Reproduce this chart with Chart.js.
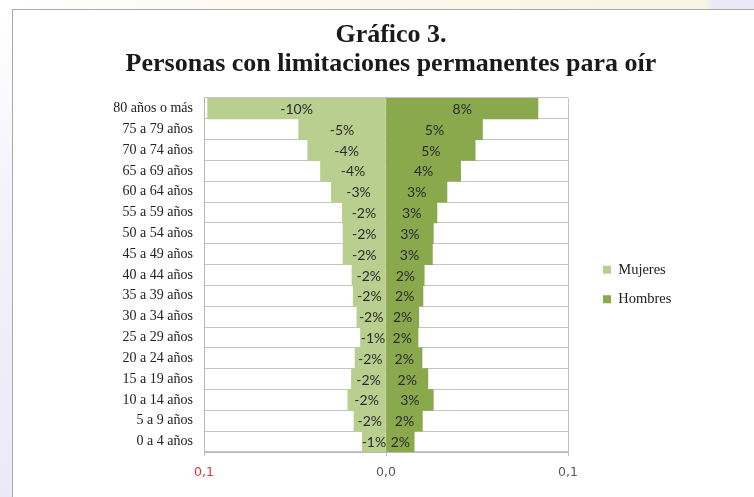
<!DOCTYPE html>
<html lang="es">
<head>
<meta charset="utf-8">
<title>Gráfico 3</title>
<script src="https://cdn.jsdelivr.net/npm/chart.js@4.4.1/dist/chart.umd.min.js"></script>
<style>
  html, body { margin: 0; padding: 0; width: 754px; height: 497px; overflow: hidden; background: #fff; }
  #topStrip { position: absolute; left: 0; top: 0; width: 754px; height: 9px;
    background: linear-gradient(to right, #ffffff 0px, #fbf8ee 300px, #f8f4e6 705px, #ebe9f6 712px); }
  #leftStrip { position: absolute; left: 0; top: 9px; width: 12px; height: 488px;
    background: linear-gradient(to bottom, #ffffff 0px, #f3f2fa 200px, #ebe9f6 488px); }
  #frame { position: absolute; left: 12px; top: 9px; width: 760px; height: 500px;
    border: 1px solid #a9a9a9; background: #fff; }
  #chart { position: absolute; left: 28px; top: 0; }
</style>
</head>
<body>
<div id="topStrip"></div>
<div id="leftStrip"></div>
<div id="frame"></div>
<canvas id="chart" width="726" height="497"></canvas>
<script>
// Age groups, top to bottom
const ageGroups = [
    '80 años o más', '75 a 79 años', '70 a 74 años', '65 a 69 años', '60 a 64 años',
    '55 a 59 años', '50 a 54 años', '45 a 49 años', '40 a 44 años', '35 a 39 años',
    '30 a 34 años', '25 a 29 años', '20 a 24 años', '15 a 19 años', '10 a 14 años',
    '5 a 9 años', '0 a 4 años'
];

// Shares (women shown as negative values)
const mujeres = [-0.098, -0.048, -0.043, -0.036, -0.030, -0.024, -0.0236, -0.0236, -0.0187,
    -0.018, -0.016, -0.014, -0.017, -0.019, -0.021, -0.0176, -0.013];
const hombres = [0.0835, 0.053, 0.049, 0.041, 0.0335, 0.028, 0.026, 0.0255, 0.021,
    0.0203, 0.018, 0.0176, 0.0198, 0.023, 0.026, 0.020, 0.0155];

const xTicks = [-0.1, 0, 0.1];

const serif = '"Liberation Serif", "Times New Roman", serif';

// draws the percentage in the middle of each bar
const barLabels = {
    id: 'barLabels',
    afterDatasetsDraw(chart) {
        const ctx = chart.ctx;
        ctx.save();
        ctx.font = '14px Lato, "Open Sans", sans-serif';
        ctx.fillStyle = '#2b2b2b';
        ctx.textAlign = 'center';
        ctx.textBaseline = 'middle';
        chart.data.datasets.forEach((ds, i) => {
            chart.getDatasetMeta(i).data.forEach((bar, j) => {
                const txt = Math.round(ds.data[j] * 100) + '%';
                ctx.fillText(txt, (bar.x + bar.base) / 2, bar.y + 1);
            });
        });
        ctx.restore();
    }
};

new Chart(document.getElementById('chart'), {
    type: 'bar',
    data: {
        labels: ageGroups,
        datasets: [
            { label: 'Mujeres', data: mujeres, backgroundColor: '#b8cf8f', barPercentage: 1, categoryPercentage: 1 },
            { label: 'Hombres', data: hombres, backgroundColor: '#8aa94c', barPercentage: 1, categoryPercentage: 1 }
        ]
    },
    options: {
        indexAxis: 'y',
        responsive: false,
        animation: false,
        layout: { padding: 0 },
        scales: {
            x: {
                stacked: true,
                min: -0.1,
                max: 0.1,
                afterBuildTicks: s => { s.ticks = xTicks.map(v => ({ value: v })); },
                afterFit: s => { s.height = 45; },
                grid: { color: '#c4c4c4', tickLength: 4 },
                border: { color: '#b8b8b8' },
                ticks: {
                    padding: 9,
                    font: { family: '"DejaVu Sans", sans-serif', size: 12.5 },
                    color: c => c.tick && c.tick.value < 0 ? '#e0312f' : '#595959',
                    callback: v => Math.abs(v).toFixed(1).replace('.', ',')
                }
            },
            y: {
                stacked: true,
                afterFit: s => { s.width = 176; },
                grid: { offset: true, color: '#c4c4c4', drawTicks: false },
                border: { color: '#b8b8b8' },
                ticks: { padding: 11, color: '#222', font: { family: serif, size: 14 } }
            },
            // empty space between plot and legend
            gapIn: {
                type: 'category',
                position: 'right',
                weight: 0,
                afterFit: s => { s.width = 20; },
                grid: { display: false },
                border: { display: false },
                ticks: { display: false }
            },
            // empty space right of the legend
            gapOut: {
                type: 'category',
                position: 'right',
                weight: 2000,
                afterFit: s => {
                    const lw = s.chart.legend ? s.chart.legend.width : 93;
                    s.width = Math.max(0, 726 - 540 - 20 - lw);
                },
                grid: { display: false },
                border: { display: false },
                ticks: { display: false }
            }
        },
        plugins: {
            title: {
                display: true,
                text: ['Gráfico 3.', 'Personas con limitaciones permanentes para oír'],
                color: '#1a1a1a',
                font: { family: serif, size: 26, weight: 'bold', lineHeight: 1.115 },
                padding: { top: 21, bottom: 19 }
            },
            legend: {
                position: 'right',
                title: { display: true, text: ' ', font: { size: 10, lineHeight: 1.2 }, padding: 30 },
                labels: {
                    boxWidth: 8,
                    boxHeight: 8,
                    padding: 15,
                    color: '#222',
                    font: { family: serif, size: 14.5 }
                }
            },
            tooltip: { enabled: false }
        }
    },
    plugins: [barLabels]
});
</script>
</body>
</html>
